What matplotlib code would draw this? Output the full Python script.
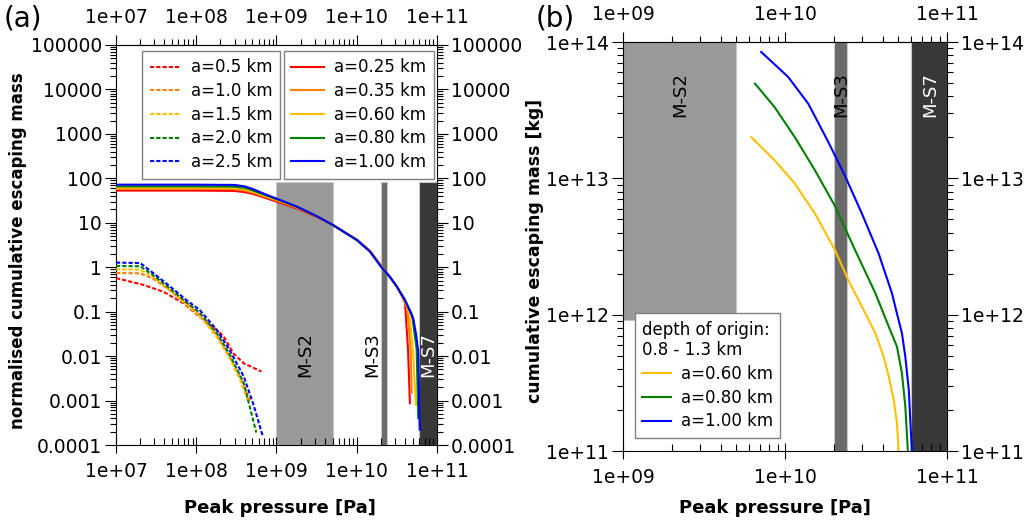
import numpy as np
import matplotlib
matplotlib.use("Agg")
from matplotlib import pyplot as plt
from matplotlib import ticker

plt.rcParams['font.family'] = 'DejaVu Sans'

# ---- panel (a): normalised cumulative escaping mass vs peak pressure
# dashed series
p_d05 = [1e7, 2.2e7, 3.9e7, 6.9e7, 1.23e8, 1.8e8, 2.2e8, 2.9e8, 3.9e8, 6.5e8]
m_d05 = [0.57, 0.40, 0.28, 0.155, 0.065, 0.039, 0.0275, 0.0116, 0.0069, 0.0045]
p_d10 = [1e7, 2e7, 2.9e7, 4.7e7, 7.6e7, 1.1e8, 1.8e8, 2.6e8, 3.5e8, 4.7e8]
m_d10 = [0.74, 0.73, 0.55, 0.30, 0.15, 0.085, 0.030, 0.010, 0.0035, 0.001]
p_d15 = [1e7, 2e7, 2.9e7, 4.7e7, 7.6e7, 1.1e8, 1.8e8, 2.6e8, 3.5e8, 4.5e8]
m_d15 = [0.90, 0.88, 0.60, 0.30, 0.14, 0.08, 0.027, 0.009, 0.003, 0.0009]
p_d20 = [1e7, 2e7, 2.9e7, 4.7e7, 7.6e7, 1.1e8, 1.8e8, 2.6e8, 3.9e8, 5.6e8]
m_d20 = [1.07, 1.05, 0.66, 0.33, 0.16, 0.095, 0.033, 0.011, 0.0025, 0.00019]
p_d25 = [1e7, 2e7, 2.9e7, 4.7e7, 7.6e7, 1.1e8, 1.8e8, 2.6e8, 3.9e8, 5.1e8, 6.8e8]
m_d25 = [1.27, 1.24, 0.74, 0.37, 0.18, 0.11, 0.039, 0.0138, 0.0035, 0.00087, 0.00015]

# solid series
p_base = [1e7, 1e8, 3e8, 4e8, 5e8, 7e8, 1e9, 1.8e9, 3.2e9, 5e9, 1e10, 1.46e10, 2e10, 2.6e10, 3.15e10]
p_s025 = p_base + [3.6e10, 4.0e10, 4.36e10, 4.6e10]
m_s025 = [53, 53, 52, 49, 45, 37, 30, 21, 13.5, 9, 4.2, 2.35, 1.1, 0.6, 0.37, 0.24, 0.155, 0.014, 0.00087]
p_s035 = p_base + [3.7e10, 4.27e10, 4.7e10, 4.84e10]
m_s035 = [58, 58, 57, 53, 48, 39, 32, 22, 14, 9, 4.2, 2.35, 1.1, 0.6, 0.37, 0.22, 0.12, 0.014, 0.0015]
p_s060 = p_base + [3.8e10, 4.52e10, 5.07e10, 5.47e10]
m_s060 = [62, 62, 61, 57, 51, 41, 33, 22.5, 14, 9, 4.1, 2.3, 1.06, 0.6, 0.37, 0.21, 0.10, 0.0104, 0.0008]
p_s080 = p_base + [3.9e10, 4.9e10, 5.58e10, 5.85e10]
m_s080 = [66, 66, 65, 61, 54, 43, 34, 23, 14, 9, 4.1, 2.26, 1.04, 0.6, 0.37, 0.2, 0.085, 0.0145, 0.0004]
p_s100 = p_base + [4.0e10, 5.07e10, 5.5e10, 5.85e10, 6.1e10]
m_s100 = [72, 72, 71, 66, 58, 45, 35, 23, 14, 9, 4.1, 2.26, 1.04, 0.6, 0.37, 0.18, 0.07, 0.03, 0.0123, 0.00022]

labels_dash = ['a=0.5 km', 'a=1.0 km', 'a=1.5 km', 'a=2.0 km', 'a=2.5 km']
labels_solid = ['a=0.25 km', 'a=0.35 km', 'a=0.60 km', 'a=0.80 km', 'a=1.00 km']
colors = ['#ff0000', '#ff7f00', '#ffc000', '#008000', '#0000ff']

# ---- panel (b): cumulative escaping mass [kg]
p_b060 = [6.18e9, 8.61e9, 1.148e10, 1.528e10, 2.03e10, 2.46e10, 2.98e10, 3.61e10, 4.06e10, 4.37e10, 4.69e10, 4.91e10, 5.04e10]
m_b060 = [2.01e13, 1.36e13, 9.18e12, 5.53e12, 3.0e12, 1.79e12, 1.15e12, 7.31e11, 4.92e11, 3.52e11, 2.37e11, 1.60e11, 9.5e10]
p_b080 = [6.53e9, 8.61e9, 1.148e10, 1.528e10, 2.03e10, 2.70e10, 3.61e10, 4.37e10, 4.91e10, 5.27e10, 5.53e10, 5.75e10]
m_b080 = [4.95e13, 3.34e13, 2.01e13, 1.15e13, 6.3e12, 3.0e12, 1.44e12, 8.17e11, 5.83e11, 3.72e11, 2.12e11, 9.5e10]
p_b100 = [7.13e9, 1.045e10, 1.39e10, 1.85e10, 2.34e10, 2.98e10, 3.78e10, 4.57e10, 4.91e10, 5.27e10, 5.53e10, 5.81e10, 6.08e10]
m_b100 = [8.45e13, 5.55e13, 3.54e13, 1.85e13, 1.05e13, 5.53e12, 2.82e12, 1.44e12, 1.02e12, 7.31e11, 4.92e11, 2.81e11, 9.5e10]
labels_b = ['a=0.60 km', 'a=0.80 km', 'a=1.00 km']
colors_b = ['#ffc000', '#008000', '#0000ff']

# shock stage bands (pressure limits)
band_names = ['M-S2', 'M-S3', 'M-S7']
band_lo = [1e9, 2e10, 6e10]
band_hi = [5e9, 2.4e10, 1e11]
band_cols = ['#999999', '#6a6a6a', '#383838']
band_text = ['black', 'black', 'white']

xt_a = [1e7, 1e8, 1e9, 1e10, 1e11]
xl_a = ['1e+07', '1e+08', '1e+09', '1e+10', '1e+11']
yt_a = [1e-4, 1e-3, 1e-2, 1e-1, 1, 10, 100, 1e3, 1e4, 1e5]
yl_a = ['0.0001', '0.001', '0.01', '0.1', '1', '10', '100', '1000', '10000', '100000']
xt_b = [1e9, 1e10, 1e11]
xl_b = ['1e+09', '1e+10', '1e+11']
yt_b = [1e11, 1e12, 1e13, 1e14]
yl_b = ['1e+11', '1e+12', '1e+13', '1e+14']


def style_axes(ax, xt, xl, yt, yl):
    ax.set_xscale('log')
    ax.set_yscale('log')
    ax.set_xticks(xt, xl)
    ax.set_yticks(yt, yl)
    ax.xaxis.set_minor_locator(ticker.LogLocator(base=10, subs=np.arange(2, 10)))
    ax.yaxis.set_minor_locator(ticker.LogLocator(base=10, subs=np.arange(2, 10)))
    ax.xaxis.set_minor_formatter(ticker.NullFormatter())
    ax.yaxis.set_minor_formatter(ticker.NullFormatter())
    ax.tick_params(axis='x', which='major', direction='inout', length=12, width=0.8,
                   pad=6, labelsize=13.5)
    ax.tick_params(axis='x', which='minor', direction='in', length=5, width=0.8)
    ax.tick_params(axis='y', which='both', direction='out', left=True, right=True,
                   labelleft=True, labelright=True, width=0.8, labelsize=13.5)
    ax.tick_params(axis='y', which='major', length=8, pad=2)
    ax.tick_params(axis='y', which='minor', length=4)
    for s in ax.spines.values():
        s.set_linewidth(0.8)
    top = ax.secondary_xaxis('top')
    top.set_xticks(xt, xl)
    top.xaxis.set_minor_locator(ticker.LogLocator(base=10, subs=np.arange(2, 10)))
    top.xaxis.set_minor_formatter(ticker.NullFormatter())
    top.tick_params(which='major', direction='out', length=7, width=0.8, pad=6, labelsize=13.5)
    top.tick_params(which='minor', direction='out', length=4, width=0.8)
    top.spines['top'].set_linewidth(0.8)


fig = plt.figure(figsize=(10.25, 5.22), dpi=100)
ax1 = fig.add_axes([0.1132, 0.1475, 0.3131, 0.7663])
ax2 = fig.add_axes([0.6078, 0.136, 0.3161, 0.7835])

# ---- panel (a)
ax1.set_xlim(1e7, 1e11)
ax1.set_ylim(1e-4, 1e5)
for lo, hi, c in zip(band_lo, band_hi, band_cols):
    ax1.axvspan(lo, hi, ymin=0, ymax=0.657, facecolor=c, edgecolor='#c8c8c8', lw=0.8, zorder=1)
txt_x_a = [2.26e9, 1.55e10, 7.7e10]
for name, x, tc in zip(band_names, txt_x_a, band_text):
    ax1.text(x, 0.0107, name, rotation=90, ha='center', va='center', fontsize=13, color=tc, zorder=2)

dash_h = []
for p, m, c, lab in zip([p_d05, p_d10, p_d15, p_d20, p_d25], [m_d05, m_d10, m_d15, m_d20, m_d25],
                        colors, labels_dash):
    h, = ax1.plot(p, m, color=c, lw=1.5, ls=(0, (2, 1)), label=lab, zorder=3)
    dash_h.append(h)
solid_h = []
for p, m, c, lab in zip([p_s025, p_s035, p_s060, p_s080, p_s100], [m_s025, m_s035, m_s060, m_s080, m_s100],
                        colors, labels_solid):
    h, = ax1.plot(p, m, color=c, lw=1.5, label=lab, zorder=3)
    solid_h.append(h)

style_axes(ax1, xt_a, xl_a, yt_a, yl_a)

leg_kw = dict(frameon=True, fancybox=False, edgecolor='#808080', framealpha=1, fontsize=12,
              labelspacing=0.34, borderaxespad=0, borderpad=0.45, handletextpad=0.6)
leg1 = ax1.legend(handles=dash_h, loc='upper left', bbox_to_anchor=(0.081, 0.985),
                  handlelength=1.9, **leg_kw)
ax1.add_artist(leg1)
ax1.legend(handles=solid_h, loc='upper right', bbox_to_anchor=(0.9907, 0.985),
           handlelength=2.0, **leg_kw)

# ---- panel (b)
ax2.set_xlim(1e9, 1e11)
ax2.set_ylim(1e11, 1e14)
ax2.axvspan(band_lo[0], band_hi[0], ymin=0.32, ymax=1, facecolor=band_cols[0], edgecolor='#c8c8c8', lw=0.8, zorder=1)
for lo, hi, c in zip(band_lo[1:], band_hi[1:], band_cols[1:]):
    ax2.axvspan(lo, hi, facecolor=c, edgecolor='#c8c8c8', lw=0.8, zorder=1)
txt_x_b = [2.27e9, 2.24e10, 7.9e10]
for name, x, tc in zip(band_names, txt_x_b, band_text):
    ax2.text(x, 4.1e13, name, rotation=90, ha='center', va='center', fontsize=13, color=tc, zorder=2)

for p, m, c, lab in zip([p_b060, p_b080, p_b100], [m_b060, m_b080, m_b100], colors_b, labels_b):
    ax2.plot(p, m, color=c, lw=1.5, label=lab, zorder=3)

style_axes(ax2, xt_b, xl_b, yt_b, yl_b)
leg_b = ax2.legend(loc='lower left', bbox_to_anchor=(0.037, 0.032), handlelength=1.7,
                   title='depth of origin:\n0.8 - 1.3 km', title_fontsize=12, **leg_kw)
leg_b._legend_box.align = 'left'

# ---- labels
fig.text(0.004, 0.965, '(a)', fontsize=20, ha='left', va='center')
fig.text(0.523, 0.965, '(b)', fontsize=20, ha='left', va='center')
fig.text(0.273, 0.027, 'Peak pressure [Pa]', fontsize=13, fontweight='bold', ha='center', va='center')
fig.text(0.756, 0.027, 'Peak pressure [Pa]', fontsize=13, fontweight='bold', ha='center', va='center')
fig.text(0.018, 0.519, 'normalised cumulative escaping mass', fontsize=12, fontweight='bold',
         rotation=90, ha='center', va='center')
fig.text(0.522, 0.52, 'cumulative escaping mass [kg]', fontsize=12.5, fontweight='bold',
         rotation=90, ha='center', va='center')

fig.savefig('out.png', dpi=100)
